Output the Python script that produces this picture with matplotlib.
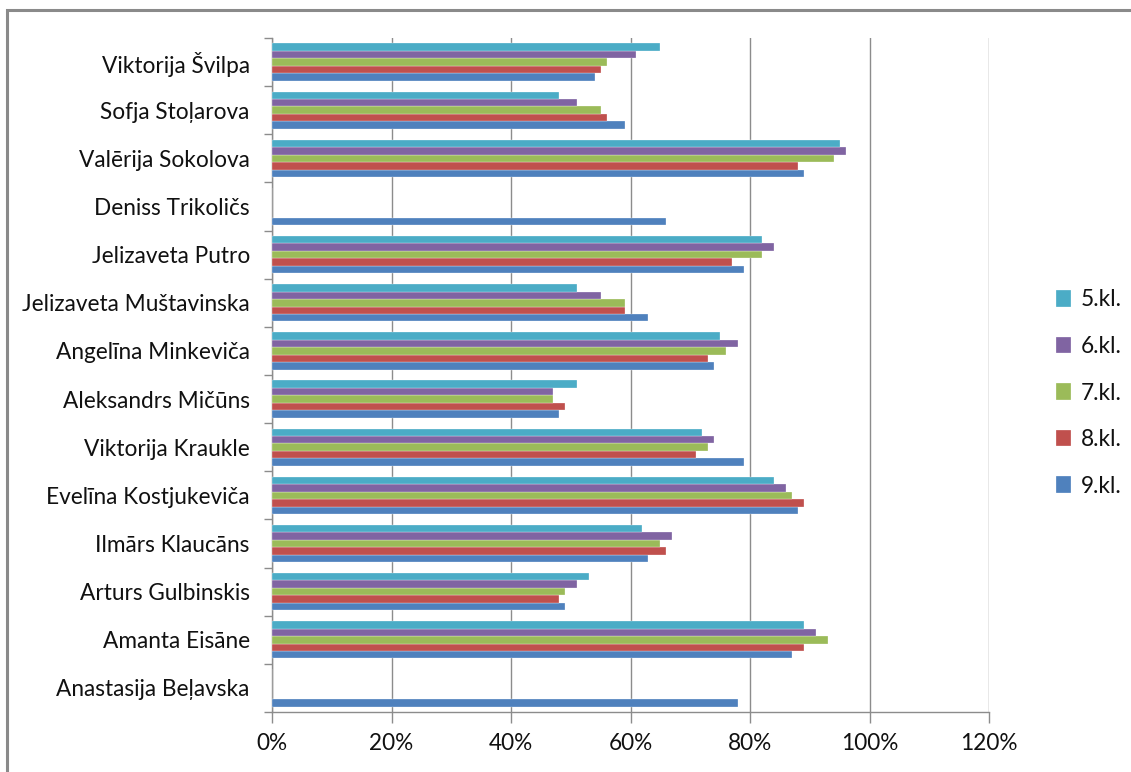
import numpy as np
import matplotlib.pyplot as plt
import matplotlib.patches as mpatches
from matplotlib.ticker import FixedLocator, PercentFormatter

# categories bottom -> top (Excel bar order)
names = [
    "Anastasija Beļavska",
    "Amanta Eisāne",
    "Arturs Gulbinskis",
    "Ilmārs Klaucāns",
    "Evelīna Kostjukeviča",
    "Viktorija Kraukle",
    "Aleksandrs Mičūns",
    "Angelīna Minkeviča",
    "Jelizaveta Muštavinska",
    "Jelizaveta Putro",
    "Deniss Trikoličs",
    "Valērija Sokolova",
    "Sofja Stoļarova",
    "Viktorija Švilpa",
]

kl9 = [78, 87, 49, 63, 88, 79, 48, 74, 63, 79, 66, 89, 59, 54]
kl8 = [0, 89, 48, 66, 89, 71, 49, 73, 59, 77, 0, 88, 56, 55]
kl7 = [0, 93, 49, 65, 87, 73, 47, 76, 59, 82, 0, 94, 55, 56]
kl6 = [0, 91, 51, 67, 86, 74, 47, 78, 55, 84, 0, 96, 51, 61]
kl5 = [0, 89, 53, 62, 84, 72, 51, 75, 51, 82, 0, 95, 48, 65]

series_labels = ["9.kl.", "8.kl.", "7.kl.", "6.kl.", "5.kl."]
series_colors = ["#4F81BD", "#C0504D", "#9BBB59", "#8064A2", "#4BACC6"]

plt.rcParams['font.family'] = ['Lato', 'DejaVu Sans']
FS = 16.3

fig = plt.figure(figsize=(11.31, 7.72), dpi=100)
ax = fig.add_axes([272 / 1131, 1 - 712 / 772, (989 - 272) / 1131, (712 - 38) / 772])

# outer chart border
fig.patches.append(mpatches.Rectangle((7 / 1131, -0.05), 1.1, 1 - 10 / 772 + 0.05,
                                      transform=fig.transFigure, fill=False,
                                      edgecolor="#8a8a8a", linewidth=2.2))

y = np.arange(len(names))
h = 0.155
all_series = [kl9, kl8, kl7, kl6, kl5]
handles = []
for i, (vals, lab, col) in enumerate(zip(all_series, series_labels, series_colors)):
    offs = (i - 2) * h
    b = ax.barh(y + offs, vals, height=h, color=col, label=lab,
                edgecolor="white", linewidth=0.2, zorder=3)
    handles.append(b)

ax.set_xlim(0, 120)
ax.set_ylim(-0.5, len(names) - 0.5)
ax.set_xticks(np.arange(0, 121, 20))
ax.xaxis.set_major_formatter(PercentFormatter(decimals=0))
ax.grid(axis="x", color="#8c8c8c", linewidth=1.0, zorder=0)

ax.set_yticks(y)
ax.set_yticklabels(names)
ax.yaxis.set_minor_locator(FixedLocator(np.arange(-0.5, len(names), 1)))
ax.tick_params(axis="y", which="major", length=0, pad=16, labelsize=FS, colors="#111111")
ax.tick_params(axis="y", which="minor", length=6, color="#8c8c8c", width=1)
ax.tick_params(axis="x", which="major", length=8, color="#8c8c8c", width=1,
               pad=7, labelsize=FS, labelcolor="#111111")

for s in ["top", "right"]:
    ax.spines[s].set_visible(False)
for s in ["left", "bottom"]:
    ax.spines[s].set_color("#8c8c8c")
    ax.spines[s].set_linewidth(1.0)

leg = fig.legend(handles=handles[::-1], labels=series_labels[::-1],
                 loc="center left", bbox_to_anchor=(1056 / 1131, 1 - 393 / 772),
                 frameon=False, fontsize=FS, labelspacing=1.13, borderpad=0,
                 borderaxespad=0, handlelength=0.65, handleheight=0.75,
                 handletextpad=0.45, labelcolor="#111111")

fig.savefig("out.png", dpi=100)
